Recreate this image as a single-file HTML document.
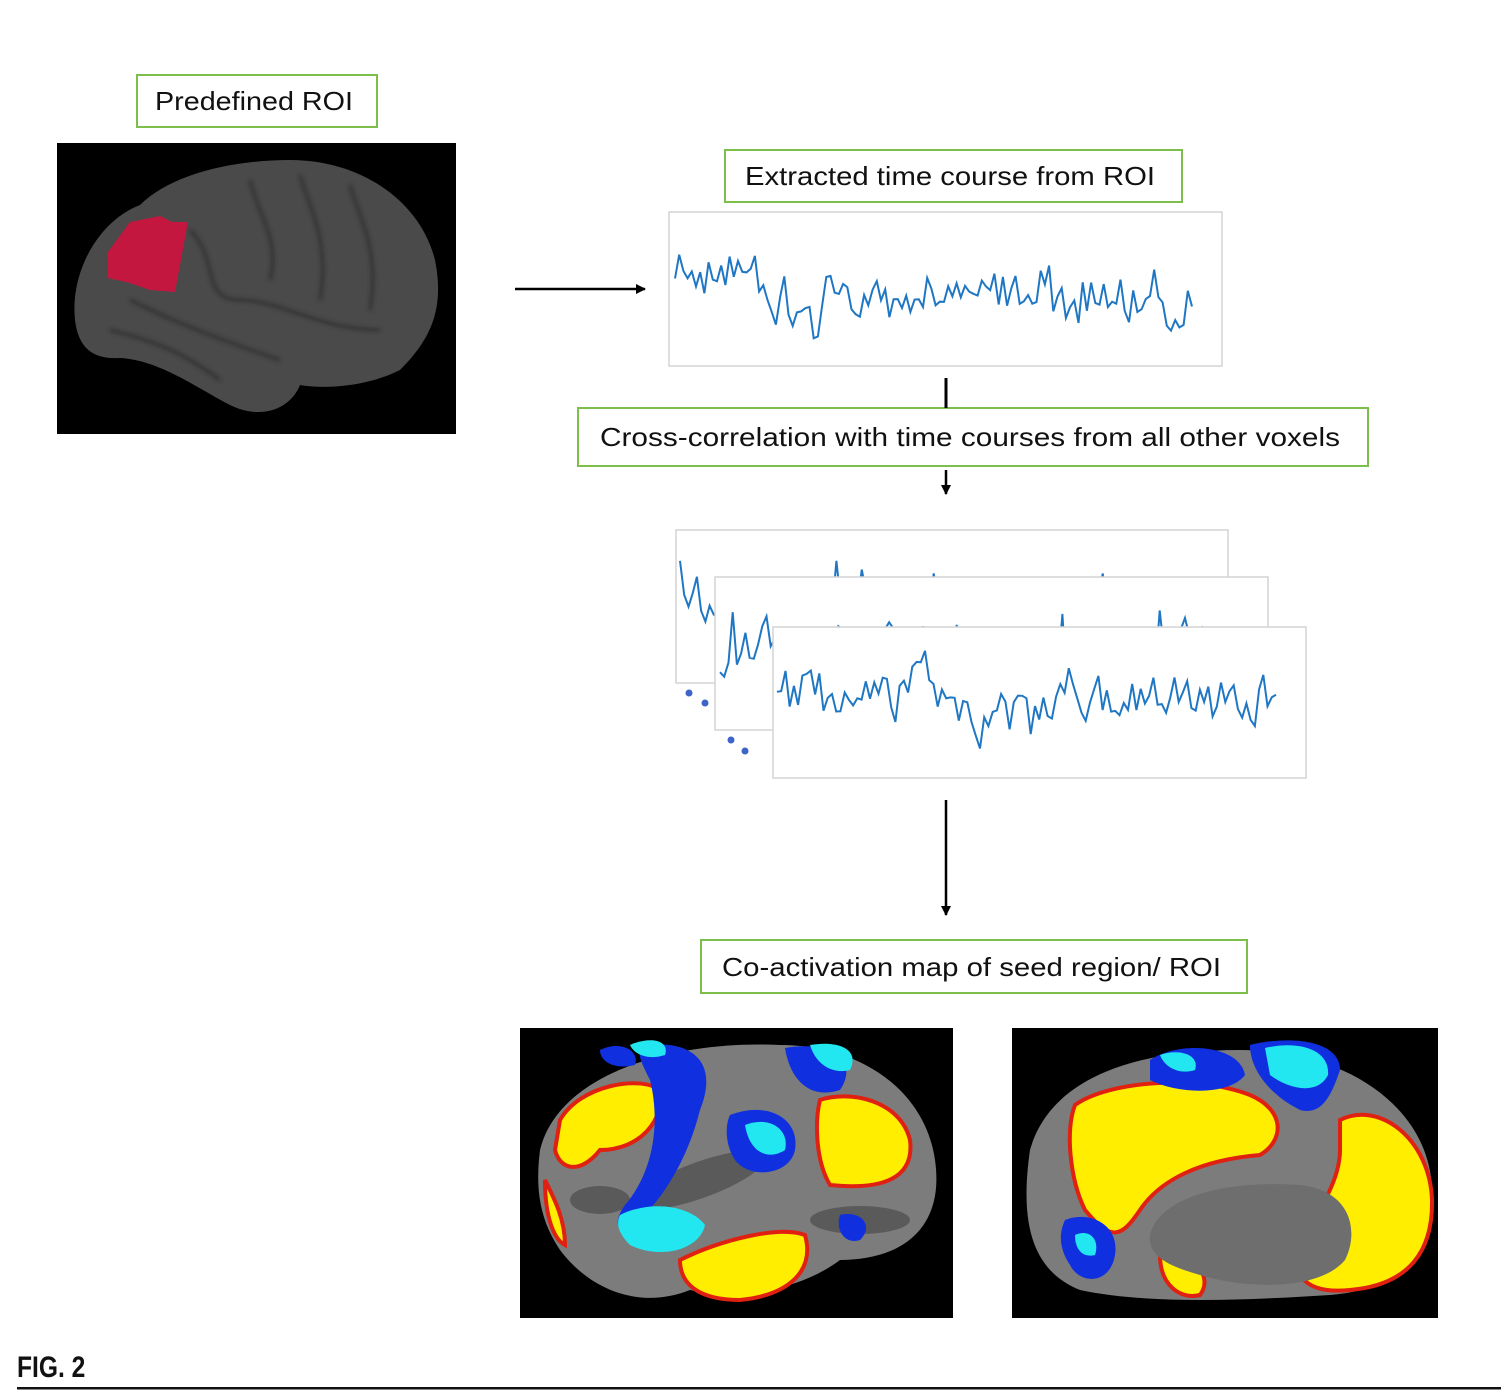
<!DOCTYPE html>
<html><head><meta charset="utf-8"><style>
body{margin:0;background:#fff;width:1510px;height:1395px;overflow:hidden;font-family:"Liberation Sans",sans-serif}
</style></head><body>
<svg id="s" width="1510" height="1395" viewBox="0 0 1510 1395" xmlns="http://www.w3.org/2000/svg">
<defs>
<marker id="ah" markerWidth="10" markerHeight="10" refX="9" refY="5" orient="auto" markerUnits="userSpaceOnUse"><path d="M0,0 L10,5 L0,10Z" fill="#000"/></marker>
<filter id="bl"><feGaussianBlur stdDeviation="2"/></filter>
</defs>
<g font-family="Liberation Sans, sans-serif" font-size="26" fill="#111">
<rect x="137" y="75" width="240" height="52" fill="#fff" stroke="#7cbf4a" stroke-width="2"/>
<text x="155" y="110" textLength="198" lengthAdjust="spacingAndGlyphs">Predefined ROI</text>
<rect x="725" y="150" width="457" height="52" fill="#fff" stroke="#7cbf4a" stroke-width="2"/>
<text x="745" y="185" textLength="410" lengthAdjust="spacingAndGlyphs">Extracted time course from ROI</text>
<rect x="578" y="408" width="790" height="58" fill="#fff" stroke="#7cbf4a" stroke-width="2"/>
<text x="600" y="446" textLength="740" lengthAdjust="spacingAndGlyphs">Cross-correlation with time courses from all other voxels</text>
<rect x="701" y="940" width="546" height="53" fill="#fff" stroke="#7cbf4a" stroke-width="2"/>
<text x="722" y="976" textLength="499" lengthAdjust="spacingAndGlyphs">Co-activation map of seed region/ ROI</text>
</g>
<rect x="57" y="143" width="399" height="291" fill="#000"/>
<path d="M75,320 C70,270 100,220 140,205 C170,175 230,160 290,160 C360,160 420,200 435,260 C445,310 430,340 400,370 C370,385 330,390 300,385 C290,410 260,420 230,405 C200,390 160,360 120,358 C90,360 78,345 75,320Z" fill="#4a4a4a"/>
<g stroke="#2e2e2e" stroke-width="3" fill="none" filter="url(#bl)">
<path d="M190,230 C220,260 200,300 240,300 C280,300 320,330 380,330"/>
<path d="M250,180 C260,220 280,240 270,280"/><path d="M300,175 C310,210 330,240 320,300"/>
<path d="M350,185 C360,220 380,250 370,310"/><path d="M130,300 C170,320 220,340 280,360"/>
<path d="M110,330 C150,340 180,350 220,380"/>
</g>
<path d="M108,252 L130,222 L160,216 L172,222 L188,222 L180,265 L175,292 L150,290 L130,283 L108,278Z" fill="#c4173f"/>
<line x1="515" y1="289" x2="645" y2="289" stroke="#000" stroke-width="2.5" marker-end="url(#ah)"/>
<line x1="946" y1="378" x2="946" y2="408" stroke="#000" stroke-width="3"/>
<line x1="946" y1="470" x2="946" y2="494" stroke="#000" stroke-width="2.5" marker-end="url(#ah)"/>
<line x1="946" y1="800" x2="946" y2="915" stroke="#000" stroke-width="2.5" marker-end="url(#ah)"/>
<g id="charts"></g>
<circle cx="689" cy="693" r="3.5" fill="#3e64c8"/><circle cx="705" cy="703" r="3.5" fill="#3e64c8"/>
<circle cx="731" cy="740" r="3.5" fill="#3e64c8"/><circle cx="745" cy="751" r="3.5" fill="#3e64c8"/>
<rect x="520" y="1028" width="433" height="290" fill="#000"/>
<path d="M540,1150 C560,1070 680,1040 780,1045 C860,1045 925,1090 935,1160 C945,1230 900,1260 840,1260 C800,1290 740,1300 690,1290 C640,1310 590,1290 560,1250 C540,1220 535,1190 540,1150Z" fill="#7c7c7c"/>
<g fill="#5a5a5a"><ellipse cx="700" cy="1180" rx="70" ry="18" transform="rotate(-20 700 1180)"/><ellipse cx="860" cy="1220" rx="50" ry="14"/><ellipse cx="600" cy="1200" rx="30" ry="14"/></g>
<g stroke="#e02010" stroke-width="4">
<path d="M560,1120 C580,1085 640,1075 660,1090 C665,1120 640,1150 600,1150 C580,1175 560,1170 555,1150Z" fill="#ffee00"/>
<path d="M820,1100 C850,1090 900,1100 910,1140 C915,1180 880,1190 830,1185 C815,1160 815,1120 820,1100Z" fill="#ffee00"/>
<path d="M680,1260 C720,1240 780,1225 805,1235 C815,1270 790,1295 740,1300 C700,1300 680,1285 680,1260Z" fill="#ffee00"/>
<path d="M545,1180 C555,1200 565,1220 565,1245 C555,1240 545,1220 545,1180Z" fill="#ffee00"/>
</g>
<g fill="#1030e0">
<path d="M645,1045 C690,1040 720,1060 700,1110 C690,1150 670,1190 640,1220 C620,1240 610,1225 625,1205 C655,1170 660,1120 650,1080 C640,1060 635,1050 645,1045Z"/>
<path d="M785,1048 C830,1040 860,1060 840,1090 C810,1100 790,1080 785,1048Z"/>
<path d="M730,1115 C770,1100 800,1120 795,1150 C790,1175 750,1180 735,1160 C725,1145 725,1125 730,1115Z"/>
<path d="M840,1215 C860,1210 875,1225 860,1240 C845,1245 835,1230 840,1215Z"/>
<path d="M600,1050 C620,1040 640,1050 635,1065 C615,1070 600,1062 600,1050Z"/>
</g>
<g fill="#22e6f0">
<path d="M620,1215 C650,1200 690,1205 705,1225 C700,1250 660,1260 630,1245 C620,1235 615,1225 620,1215Z"/>
<path d="M745,1125 C770,1115 790,1130 785,1150 C770,1160 750,1155 745,1125Z"/>
<path d="M810,1045 C840,1040 860,1050 850,1070 C830,1075 815,1062 810,1045Z"/>
<path d="M630,1045 C650,1036 670,1040 665,1055 C650,1060 635,1056 630,1045Z"/>
</g>
<rect x="1012" y="1028" width="426" height="290" fill="#000"/>
<path d="M1030,1150 C1050,1080 1130,1050 1240,1050 C1350,1050 1430,1110 1432,1190 C1435,1250 1400,1290 1330,1295 C1250,1300 1150,1305 1080,1290 C1030,1270 1020,1220 1030,1150Z" fill="#7c7c7c"/>
<g stroke="#e02010" stroke-width="4" fill="#ffee00">
<path d="M1075,1105 C1110,1080 1200,1075 1250,1095 C1285,1110 1285,1140 1260,1155 C1200,1160 1160,1180 1140,1210 C1120,1240 1110,1240 1085,1210 C1070,1180 1065,1130 1075,1105Z"/>
<path d="M1340,1120 C1380,1100 1430,1140 1432,1200 C1433,1250 1410,1285 1350,1290 C1300,1295 1290,1270 1300,1240 C1320,1210 1340,1180 1340,1150Z"/>
<path d="M1160,1255 C1190,1250 1215,1275 1200,1295 C1180,1300 1160,1285 1160,1255Z"/>
</g>
<path d="M1150,1235 C1160,1195 1230,1180 1300,1185 C1350,1190 1360,1230 1345,1260 C1320,1290 1250,1290 1200,1275 C1165,1265 1148,1255 1150,1235Z" fill="#6e6e6e"/>
<g fill="#1030e0">
<path d="M1150,1060 C1180,1040 1240,1045 1245,1075 C1230,1095 1180,1095 1150,1080Z"/>
<path d="M1250,1045 C1290,1035 1340,1040 1340,1070 C1330,1100 1320,1115 1300,1110 C1270,1095 1250,1070 1250,1045Z"/>
<path d="M1065,1220 C1090,1210 1120,1225 1115,1255 C1110,1285 1080,1285 1070,1265 C1060,1250 1058,1235 1065,1220Z"/>
</g>
<g fill="#22e6f0">
<path d="M1265,1048 C1300,1040 1330,1050 1328,1075 C1318,1095 1290,1090 1270,1075Z"/>
<path d="M1160,1055 C1180,1048 1200,1055 1195,1070 C1180,1075 1165,1068 1160,1055Z"/>
<path d="M1075,1235 C1090,1228 1100,1240 1095,1255 C1083,1258 1075,1250 1075,1235Z"/>
</g>
<text x="17" y="1377" font-family="Liberation Sans, sans-serif" font-weight="bold" font-size="30" fill="#111" transform="translate(17 0) scale(0.82 1) translate(-17 0)">FIG. 2</text>
<rect x="17" y="1387" width="1484" height="2.5" fill="#111"/>
</svg>
<script>
var ns="http://www.w3.org/2000/svg",g=document.getElementById("charts");
var seed=11;function r(){seed=(seed*16807)%2147483647;return seed/2147483647;}
function chart(x,y,w,h,px0,px1,amp,spiky){
 var rc=document.createElementNS(ns,"rect");
 rc.setAttribute("x",x);rc.setAttribute("y",y);rc.setAttribute("width",w);rc.setAttribute("height",h);
 rc.setAttribute("fill","#fff");rc.setAttribute("stroke","#d4d4d4");rc.setAttribute("stroke-width","1.5");g.appendChild(rc);
 var pts=[],n=Math.floor((px1-px0)/4.2),mid=y+h*0.5,v=0,slow=0;
 for(var i=0;i<=n;i++){slow=slow*0.93+(r()-0.5)*0.5;v=v*0.4+(r()-0.5)*1.6;var yy=mid+(v+slow)*amp*0.7;
  if(spiky&&r()<0.08)yy=y+h*0.2+r()*h*0.2;
  yy=Math.max(y+5,Math.min(y+h-8,yy));pts.push((px0+i*(px1-px0)/n).toFixed(1)+","+yy.toFixed(1));}
 var pl=document.createElementNS(ns,"polyline");pl.setAttribute("points",pts.join(" "));
 pl.setAttribute("fill","none");pl.setAttribute("stroke","#1f77c4");pl.setAttribute("stroke-width","2");g.appendChild(pl);
}
chart(669,212,553,154,675,1192,45,false);
chart(676,530,552,153,680,1200,40,true);
chart(715,577,553,153,720,1240,40,true);
chart(773,627,533,151,777,1276,42,false);
</script>
</body></html>
